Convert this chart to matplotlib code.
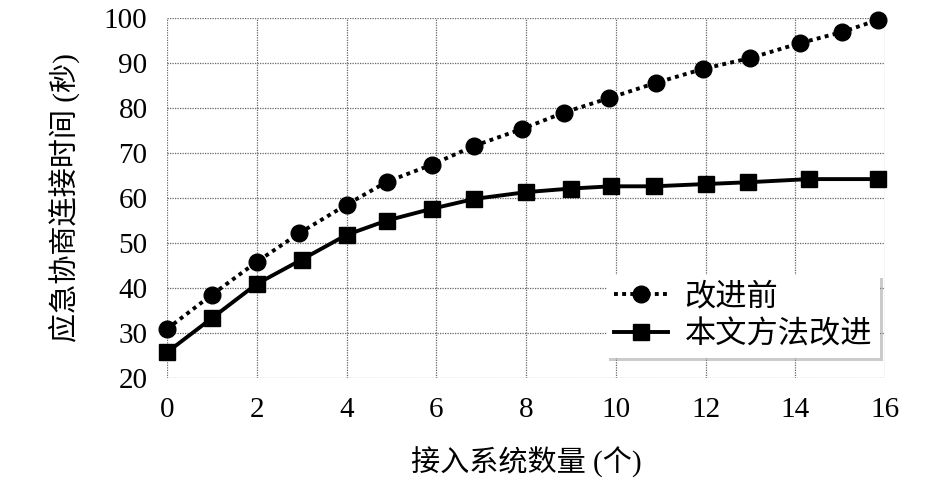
import matplotlib
matplotlib.use("Agg")
import matplotlib.pyplot as plt

# data
before_x = [0, 1, 2, 2.95, 4, 4.9, 5.9, 6.85, 7.9, 8.85, 9.85, 10.9, 11.95, 13, 14.1, 15.05, 15.85]
before_y = [30.9, 38.5, 45.8, 52.2, 58.5, 63.6, 67.4, 71.6, 75.3, 79.0, 82.2, 85.6, 88.7, 91.1, 94.4, 96.9, 99.6]
after_x = [0, 1, 2, 3, 4, 4.9, 5.9, 6.85, 8, 9, 9.9, 10.85, 12, 12.95, 14.3, 15.85]
after_y = [25.7, 33.3, 40.9, 46.3, 51.8, 55.0, 57.6, 59.8, 61.3, 62.1, 62.6, 62.6, 63.1, 63.5, 64.2, 64.2]
labels = ["改进前", "本文方法改进"]
x_ticks = [0, 2, 4, 6, 8, 10, 12, 14, 16]
y_ticks = [20, 30, 40, 50, 60, 70, 80, 90, 100]
x_label = "接入系统数量 (个)"
y_label = "应急协商连接时间 (秒)"

plt.rcParams['font.family'] = ['Liberation Serif', 'Noto Sans CJK SC', 'DejaVu Sans']

fig = plt.figure(figsize=(9.46, 4.83), dpi=100)
ax = fig.add_axes([167/946, 1-378/483, 718/946, 360/483])

ax.plot(before_x, before_y, color='black', linestyle=(0, (1, 1.1)), linewidth=2.8,
        marker='o', markersize=12, label=labels[0], clip_on=False, zorder=3)
ax.plot(after_x, after_y, color='black', linestyle='-', linewidth=2.8,
        marker='s', markersize=11, label=labels[1], clip_on=False, zorder=3)

ax.set_xlim(0, 16)
ax.set_ylim(20, 100)
ax.set_xticks(x_ticks)
ax.set_yticks(y_ticks)
ax.tick_params(axis='both', length=0, labelsize=21, pad=14)
for s in ax.spines.values():
    s.set_visible(False)
ax.grid(True, color='#666666', linestyle=(0, (1, 1)), linewidth=0.9, zorder=0)
ax.set_axisbelow(True)

ax.set_xlabel(x_label, fontsize=21)
ax.xaxis.set_label_coords(0.5, -0.19)
ax.set_ylabel(y_label, fontsize=21)
ax.yaxis.set_label_coords(-0.121, 0.5)

leg = ax.legend(loc='lower right', bbox_to_anchor=(880/946, 1-358/483),
                bbox_transform=fig.transFigure, borderaxespad=0,
                fontsize=22.5, frameon=True, fancybox=False,
                shadow={'color': '0.6', 'alpha': 0.5},
                handlelength=1.7, handletextpad=0.55, borderpad=0.25,
                labelspacing=0.28)
leg.get_frame().set_edgecolor('white')
leg.get_frame().set_linewidth(0)
leg.get_frame().set_alpha(1)

fig.savefig("out.png", dpi=100)
